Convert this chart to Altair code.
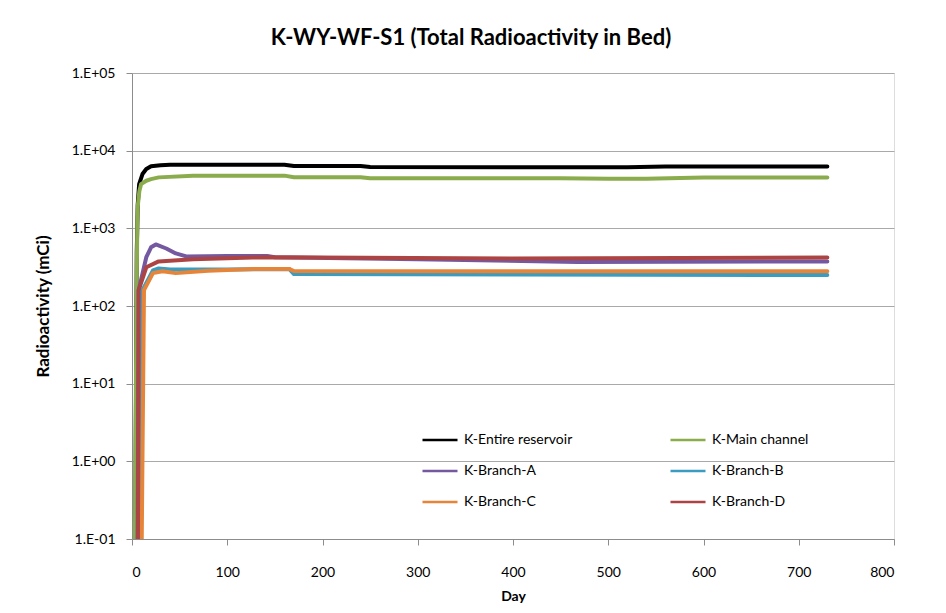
import altair as alt
import pandas as pd

SERIES = ["K-Entire reservoir", "K-Main channel", "K-Branch-A",
          "K-Branch-B", "K-Branch-C", "K-Branch-D"]
COLORS = ["#000000", "#8BAC4C", "#7459A0", "#3A9DC0", "#E6853A", "#AC4443"]

entire_days = [3, 5, 6, 7.5, 11, 15, 20, 30, 40, 160, 170, 240, 250, 520, 560, 730]
entire_vals = [0.01, 500, 2000, 3700, 5000, 5800, 6300, 6500, 6600, 6600, 6350, 6350, 6150, 6100, 6250, 6250]

main_days = [2.5, 4.5, 5.5, 6, 7.7, 9.5, 15, 20, 28, 64, 100, 160, 170, 240, 250, 450, 500, 540, 600, 730]
main_vals = [0.01, 50, 1000, 1900, 3000, 3700, 4100, 4300, 4530, 4770, 4770, 4770, 4560, 4560, 4420, 4400, 4350, 4350, 4500, 4530]

a_days = [5.5, 7, 15, 20, 25, 36, 46, 57, 100, 142, 150, 300, 468, 730]
a_vals = [0.01, 160, 425, 570, 620, 550, 475, 435, 440, 440, 425, 400, 368, 375]

b_days = [8.5, 11, 22, 28, 40, 100, 165, 170, 400, 730]
b_vals = [0.01, 160, 288, 305, 295, 295, 300, 258, 255, 250]

c_days = [9.5, 12.6, 22, 32, 46, 80, 127, 165, 170, 730]
c_vals = [0.01, 160, 265, 280, 265, 285, 300, 300, 282, 280]

d_days = [6, 7, 15, 28, 64, 127, 140, 400, 730]
d_vals = [0.01, 160, 315, 375, 400, 420, 425, 410, 420]

DAYS = [entire_days, main_days, a_days, b_days, c_days, d_days]
VALS = [entire_vals, main_vals, a_vals, b_vals, c_vals, d_vals]

rows = []
for s, ds, vs in zip(SERIES, DAYS, VALS):
    for d, v in zip(ds, vs):
        rows.append({"series": s, "day": d, "value": v})
df = pd.DataFrame(rows)

Y_TICKS = [0.1, 1, 10, 100, 1000, 10000, 100000]
X_TICKS = [0, 100, 200, 300, 400, 500, 600, 700, 800]

FONT = "Lato"

label_expr = ("'1.E' + (datum.value >= 1 ? '+' : '-') + "
              "(abs(round(log(datum.value)/LN10)) < 10 ? '0' : '') + "
              "abs(round(log(datum.value)/LN10))")

base = alt.Chart(df).mark_line(strokeWidth=4, clip=True, strokeCap="round", strokeJoin="round").encode(
    x=alt.X("day:Q", title="Day",
            scale=alt.Scale(domain=[0, 800], nice=False),
            axis=alt.Axis(values=X_TICKS, grid=False, tickSize=6, labelPadding=20,
                          titlePadding=10, domainColor="#8c8c8c", tickColor="#8c8c8c",
                          labelFontSize=14, titleFontSize=14, labelColor="#000000",
                          titleColor="#000000", titleFontWeight="bold",
                          labelFont=FONT, titleFont=FONT)),
    y=alt.Y("value:Q", title="Radioactivity (mCi)",
            scale=alt.Scale(type="log", domain=[0.1, 100000], nice=False),
            axis=alt.Axis(values=Y_TICKS, labelExpr=label_expr, grid=True,
                          gridColor="#a9a9a9", gridWidth=1, tickSize=6, labelPadding=11,
                          titlePadding=19, domainColor="#8c8c8c", tickColor="#8c8c8c",
                          labelFontSize=14, titleFontSize=17, labelColor="#000000",
                          titleColor="#000000", titleFontWeight="bold",
                          labelFont=FONT, titleFont=FONT)),
    color=alt.Color("series:N", scale=alt.Scale(domain=SERIES, range=COLORS),
                    legend=alt.Legend(title=None, orient="none", legendX=289, legendY=348,
                                      direction="horizontal",
                                      columns=2, columnPadding=92, rowPadding=5,
                                      symbolType="stroke", symbolSize=1225,
                                      symbolStrokeWidth=2.5, labelFontSize=14,
                                      labelFont=FONT, labelColor="#000000",
                                      labelOffset=5, padding=0, labelLimit=300)),
)

layers = [base.transform_filter(alt.datum.series == s) for s in SERIES]

chart = alt.layer(*layers).properties(
    width=762, height=466,
    title=alt.TitleParams("K-WY-WF-S1 (Total Radioactivity in Bed)", font=FONT,
                          fontSize=22, fontWeight="bold", color="#000000",
                          anchor="middle", dx=-42, offset=16),
    autosize=alt.AutoSizeParams(type="none"),
    padding={"left": 124, "top": 65, "right": 40, "bottom": 66},
).configure_view(stroke=None).configure(background="white")

chart.save("out.html", embed_options={"renderer": "svg", "actions": False})
